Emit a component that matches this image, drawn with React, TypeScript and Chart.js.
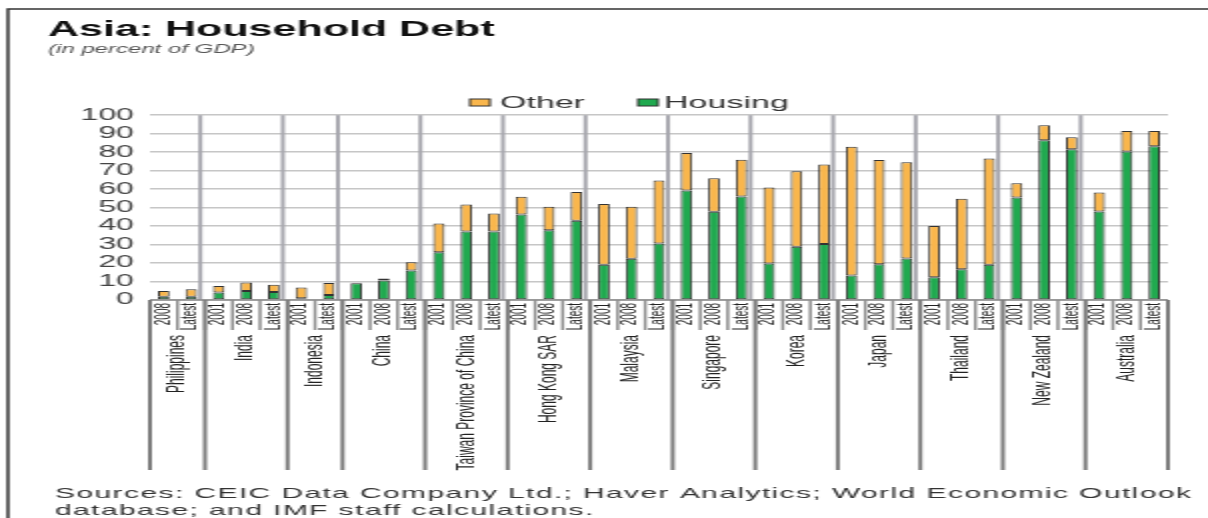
import React, { useEffect, useRef } from "react";
import { Chart, registerables } from "chart.js";

Chart.register(...registerables);

const groups = [
  "Philippines",
  "India",
  "Indonesia",
  "China",
  "Taiwan Province of China",
  "Hong Kong SAR",
  "Malaysia",
  "Singapore",
  "Korea",
  "Japan",
  "Thailand",
  "New Zealand",
  "Australia",
];

const groupYears = [
  ["2008", "Latest"],
  ["2001", "2008", "Latest"],
  ["2001", "Latest"],
  ["2001", "2008", "Latest"],
  ["2001", "2008", "Latest"],
  ["2001", "2008", "Latest"],
  ["2001", "2008", "Latest"],
  ["2001", "2008", "Latest"],
  ["2001", "2008", "Latest"],
  ["2001", "2008", "Latest"],
  ["2001", "2008", "Latest"],
  ["2001", "2008", "Latest"],
  ["2001", "2008", "Latest"],
];

const housing = [
  1.8, 1.8,
  4.1, 4.9, 4.3,
  0.9, 2.7,
  9.0, 10.5, 15.9,
  25.8, 37.1, 37.1,
  46.3, 37.8, 42.9,
  19.1, 22.3, 30.6,
  59.3, 47.7, 56.0,
  19.8, 28.8, 30.3,
  13.3, 19.3, 22.5,
  12.3, 16.6, 19.1,
  55.5, 86.5, 81.6,
  47.9, 80.4, 83.2,
];

const other = [
  3.1, 4.0,
  3.5, 4.6, 4.0,
  5.9, 6.5,
  0.4, 1.2, 4.5,
  15.6, 14.6, 9.7,
  9.6, 12.7, 15.5,
  32.8, 28.2, 34.1,
  20.3, 18.2, 19.9,
  41.1, 40.9, 43.0,
  69.6, 56.4, 52.1,
  27.7, 38.2, 57.5,
  7.7, 8.1, 6.5,
  10.3, 11.0, 8.3,
];

const yTicks = [0, 10, 20, 30, 40, 50, 60, 70, 80, 90, 100];

const titleText = "Asia: Household Debt";
const subtitleText = "(in percent of GDP)";
const sourceLines = [
  "Sources: CEIC Data Company Ltd.; Haver Analytics; World Economic Outlook",
  "database; and IMF staff calculations.",
];

const ORANGE = "#F9B64C";
const GREEN = "#20A94F";
const FONT = "'Liberation Sans', Arial, sans-serif";

const labels: string[] = groupYears.flat();

const decorPlugin = {
  id: "decor",
  beforeDatasetsDraw(chart: any) {
    const { ctx, chartArea } = chart;
    const xs = chart.scales.x;
    const n = labels.length;
    const slot = (xs.right - xs.left) / n;
    ctx.save();
    ctx.strokeStyle = "#a7a7ae";
    ctx.lineWidth = 2;
    let idx = 0;
    for (let g = 0; g < groupYears.length - 1; g++) {
      idx += groupYears[g].length;
      const x = xs.left + idx * slot - slot * 0.17;
      ctx.beginPath();
      ctx.moveTo(x, chartArea.top);
      ctx.lineTo(x, chartArea.bottom);
      ctx.stroke();
    }
    ctx.restore();
  },
  afterDraw(chart: any) {
    const { ctx, chartArea } = chart;
    const xs = chart.scales.x;
    const n = labels.length;
    const slot = (xs.right - xs.left) / n;
    const base = chartArea.bottom;
    ctx.save();

    // frame
    ctx.strokeStyle = "#333";
    ctx.lineWidth = 1.5;
    ctx.beginPath();
    ctx.moveTo(4, 518);
    ctx.lineTo(4, 9);
    ctx.lineTo(604, 9);
    ctx.stroke();

    // axis line
    ctx.strokeStyle = "#8a8a8a";
    ctx.lineWidth = 1.5;
    ctx.beginPath();
    ctx.moveTo(xs.left, base);
    ctx.lineTo(xs.right, base);
    ctx.stroke();

    // year cell separators
    ctx.strokeStyle = "#8d8d8d";
    ctx.lineWidth = 1.5;
    for (let i = 0; i <= n; i++) {
      const x = xs.left + i * slot;
      ctx.beginPath();
      ctx.moveTo(x, base);
      ctx.lineTo(x, base + 30);
      ctx.stroke();
    }

    // group separators
    ctx.strokeStyle = "#7c7c7c";
    ctx.lineWidth = 2;
    let idx = 0;
    const bounds: number[] = [0];
    for (let g = 0; g < groupYears.length; g++) {
      idx += groupYears[g].length;
      bounds.push(idx);
    }
    bounds.forEach((b) => {
      const x = xs.left + b * slot;
      ctx.beginPath();
      ctx.moveTo(x, base);
      ctx.lineTo(x, base + 170);
      ctx.stroke();
    });

    // year labels
    ctx.fillStyle = "#222";
    ctx.font = `10px ${FONT}`;
    ctx.textAlign = "right";
    ctx.textBaseline = "middle";
    labels.forEach((lab, i) => {
      const x = xs.getPixelForValue(i);
      ctx.save();
      ctx.translate(x, base + 3);
      ctx.rotate(-Math.PI / 2);
      ctx.fillText(lab, 0, 0);
      ctx.restore();
    });

    // group labels
    ctx.font = `12px ${FONT}`;
    for (let g = 0; g < groups.length; g++) {
      const x = xs.left + ((bounds[g] + bounds[g + 1]) / 2) * slot;
      ctx.save();
      ctx.translate(x, base + 35);
      ctx.rotate(-Math.PI / 2);
      ctx.fillText(groups[g], 0, 0);
      ctx.restore();
    }

    // legend
    const items = [
      { label: "Other", color: ORANGE, bx: 235, tx: 250 },
      { label: "Housing", color: GREEN, bx: 319, tx: 332 },
    ];
    ctx.font = `17px ${FONT}`;
    ctx.textAlign = "left";
    ctx.textBaseline = "middle";
    items.forEach((it) => {
      ctx.fillStyle = it.color;
      ctx.fillRect(it.bx, 99, 10, 7);
      ctx.strokeStyle = "#333";
      ctx.lineWidth = 1;
      ctx.strokeRect(it.bx, 99, 10, 7);
      ctx.fillStyle = "#333";
      ctx.fillText(it.label, it.tx, 103);
    });

    // sources
    ctx.font = `15px ${FONT}`;
    try {
      (ctx as any).letterSpacing = "0.7px";
    } catch (e) {}
    ctx.fillStyle = "#333";
    ctx.fillText(sourceLines[0], 27.5, 494);
    ctx.fillText(sourceLines[1], 27.5, 511);
    try {
      (ctx as any).letterSpacing = "0px";
    } catch (e) {}

    ctx.restore();
  },
};

export default function App() {
  const ref = useRef<HTMLCanvasElement | null>(null);

  useEffect(() => {
    if (!ref.current) return;
    const chart = new Chart(ref.current, {
      type: "bar",
      data: {
        labels,
        datasets: [
          {
            label: "Housing",
            data: housing,
            backgroundColor: GREEN,
            borderColor: "#333",
            borderWidth: 1,
            borderSkipped: false,
            barPercentage: 0.42,
            categoryPercentage: 1,
          },
          {
            label: "Other",
            data: other,
            backgroundColor: ORANGE,
            borderColor: "#333",
            borderWidth: 1,
            borderSkipped: false,
            barPercentage: 0.42,
            categoryPercentage: 1,
          },
        ],
      },
      options: {
        responsive: false,
        animation: false,
        devicePixelRatio: 1,
        layout: { padding: { top: 0, left: 24, right: 20, bottom: 0 } },
        plugins: {
          legend: { display: false },
          tooltip: { enabled: false },
          title: {
            display: true,
            text: titleText,
            align: "start",
            color: "#111",
            font: { family: FONT, size: 21.5, weight: "bold" },
            padding: { top: 17, bottom: 0 },
          },
          subtitle: {
            display: true,
            text: subtitleText,
            align: "start",
            color: "#555",
            font: { family: FONT, size: 12, style: "italic" },
            padding: { top: 0, bottom: 58 },
          },
        },
        scales: {
          x: {
            type: "category",
            stacked: true,
            offset: true,
            grid: { display: false },
            border: { display: false },
            ticks: { display: false },
            afterFit: (s: any) => {
              s.height = 218;
            },
          },
          y: {
            stacked: true,
            min: 0,
            max: 100,
            afterBuildTicks: (s: any) => {
              s.ticks = yTicks.map((v) => ({ value: v }));
            },
            ticks: {
              color: "#444",
              padding: 8,
              autoSkip: false,
              font: { family: FONT, size: 16 },
            },
            grid: { color: "#c6c6c6", lineWidth: 1.5, drawTicks: false },
            border: { display: false },
            afterFit: (s: any) => {
              s.width = 51;
            },
          },
        },
      },
      plugins: [decorPlugin],
    });
    return () => chart.destroy();
  }, []);

  return (
    <div
      style={{
        position: "absolute",
        left: 0,
        top: 0,
        width: 604,
        height: 518,
        transform: "scaleX(2)",
        transformOrigin: "0 0",
        background: "#fff",
      }}
    >
      <canvas ref={ref} width={604} height={518} style={{ display: "block" }} />
    </div>
  );
}
